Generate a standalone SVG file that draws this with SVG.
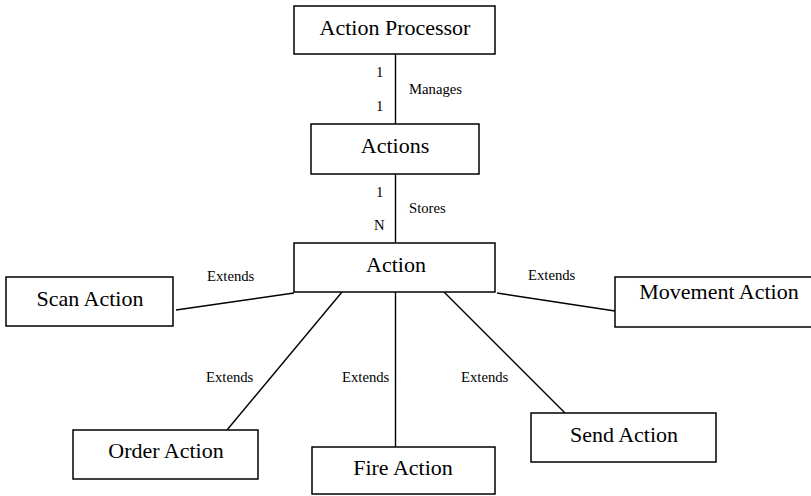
<svg xmlns="http://www.w3.org/2000/svg" width="811" height="496" viewBox="0 0 811 496">
<style>
.box{fill:#fff;stroke:#000;stroke-width:1.5}
.name{font-size:22px;fill:#000;text-anchor:middle}
.lbl{font-size:14.7px;fill:#000}
.con line{stroke:#000;stroke-width:1.4}
</style>
<rect width="811" height="496" fill="#fff"/>
<g id="connectors" class="con">
<line x1="395.5" y1="54" x2="395.5" y2="124"/>
<line x1="395.5" y1="174" x2="395.5" y2="243"/>
<line x1="294" y1="293" x2="176" y2="310"/>
<line x1="497" y1="293" x2="615" y2="311"/>
<line x1="342" y1="292" x2="227" y2="430"/>
<line x1="395.5" y1="292" x2="395.5" y2="447"/>
<line x1="444" y1="292" x2="565" y2="413"/>
</g>
<g font-family="Liberation Serif, Tinos, Times New Roman, DejaVu Serif, serif">
<g id="labels">
<text class="lbl" x="376" y="77">1</text>
<text class="lbl" x="409" y="94">Manages</text>
<text class="lbl" x="376" y="111">1</text>
<text class="lbl" x="376" y="197">1</text>
<text class="lbl" x="409" y="213">Stores</text>
<text class="lbl" x="374" y="230">N</text>
<text class="lbl" x="207" y="281">Extends</text>
<text class="lbl" x="528" y="280">Extends</text>
<text class="lbl" x="206" y="382">Extends</text>
<text class="lbl" x="342" y="382">Extends</text>
<text class="lbl" x="461" y="382">Extends</text>
</g>
<g id="action-processor">
<rect class="box" x="294" y="6" width="201" height="48"/>
<text class="name" x="395" y="35">Action Processor</text>
</g>
<g id="actions">
<rect class="box" x="311" y="124" width="168" height="50"/>
<text class="name" x="395" y="153">Actions</text>
</g>
<g id="action">
<rect class="box" x="294" y="243" width="201" height="49"/>
<text class="name" x="396" y="272">Action</text>
</g>
<g id="scan-action">
<rect class="box" x="6" y="277" width="167" height="49"/>
<text class="name" x="90" y="306">Scan Action</text>
</g>
<g id="movement-action">
<rect class="box" x="615" y="277" width="205" height="50"/>
<text class="name" x="719" y="299">Movement Action</text>
</g>
<g id="order-action">
<rect class="box" x="73" y="430" width="185" height="49"/>
<text class="name" x="166" y="458">Order Action</text>
</g>
<g id="fire-action">
<rect class="box" x="312" y="447" width="183" height="47"/>
<text class="name" x="403" y="475">Fire Action</text>
</g>
<g id="send-action">
<rect class="box" x="531" y="413" width="185" height="49"/>
<text class="name" x="624" y="442">Send Action</text>
</g>
</g>
</svg>
